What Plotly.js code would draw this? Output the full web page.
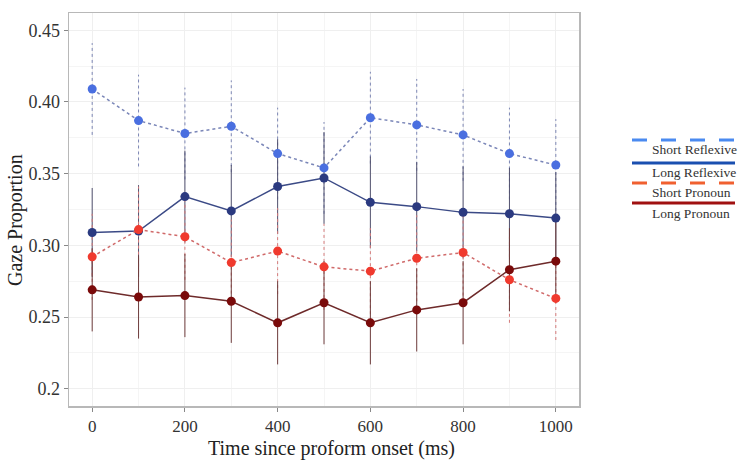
<!DOCTYPE html>
<html><head><meta charset="utf-8">
<script src="https://cdn.plot.ly/plotly-3.0.1.min.js"></script>
<style>html,body{margin:0;padding:0;background:#fff}#chart{width:749px;height:466px}</style>
</head><body><div id="chart"></div>
<script>
const times = [0,100,200,300,400,500,600,700,800,900,1000];
const shortReflexive = [0.409,0.387,0.378,0.383,0.364,0.354,0.389,0.384,0.377,0.364,0.356];
const shortReflexiveErr = [0.032,0.032,0.032,0.032,0.032,0.032,0.032,0.032,0.032,0.032,0.032];
const longReflexive = [0.309,0.310,0.334,0.324,0.341,0.347,0.330,0.327,0.323,0.322,0.319];
const longReflexiveErr = [0.031,0.032,0.032,0.032,0.033,0.032,0.032,0.031,0.032,0.032,0.032];
const shortPronoun = [0.292,0.311,0.306,0.288,0.296,0.285,0.282,0.291,0.295,0.276,0.263];
const shortPronounErr = [0.030,0.030,0.030,0.030,0.030,0.030,0.030,0.030,0.030,0.030,0.029];
const longPronoun = [0.269,0.264,0.265,0.261,0.246,0.260,0.246,0.255,0.260,0.283,0.289];
const longPronounErr = [0.029,0.029,0.029,0.029,0.029,0.029,0.029,0.029,0.029,0.029,0.029];
const seriesNames = ['Short Reflexive','Long Reflexive','Short Pronoun','Long Pronoun'];
const xTicks = [0,200,400,600,800,1000];
const yTickVals = [0.2,0.25,0.30,0.35,0.40,0.45];
const yTickText = ['0.2','0.25','0.30','0.35','0.40','0.45'];
const xTitle = 'Time since proform onset (ms)';
const yTitle = 'Gaze Proportion';

const SERIF = 'Liberation Serif, Times New Roman, serif';
function errTrace(y, e, color, dash){
  const xs=[], ys=[];
  times.forEach((t,i)=>{xs.push(t,t,null); ys.push(y[i]-e[i], y[i]+e[i], null);});
  return {x:xs,y:ys,mode:'lines',line:{color:color,width:1,dash:dash},hoverinfo:'skip',showlegend:false};
}
function lineTrace(y, lineColor, markerColor, dash){
  return {x:times,y:y,mode:'lines+markers',line:{color:lineColor,width:1.5,dash:dash},
    marker:{color:markerColor,size:9},showlegend:false};
}
const data = [
  errTrace(shortReflexive, shortReflexiveErr, '#7c86b4', 'dot'),
  errTrace(longReflexive, longReflexiveErr, '#50506e', 'solid'),
  errTrace(shortPronoun, shortPronounErr, '#d47a7a', 'dot'),
  errTrace(longPronoun, longPronounErr, '#6e3c3c', 'solid'),
  lineTrace(shortReflexive, '#7a86b8', '#4a6fe0', 'dot'),
  lineTrace(longReflexive, '#3b4a86', '#2b3a80', 'solid'),
  lineTrace(shortPronoun, '#d06a6a', '#f03a2e', 'dot'),
  lineTrace(longPronoun, '#6e2a2a', '#7a0a0a', 'solid')
];

const legColors = ['#4a8af0','#1a4fb0','#f06030','#a01010'];
const legDash = ['15px,14px','solid','15px,14px','solid'];
const W=749,H=466;
const PL=69, PW=510, PB=406, PH=393;
const px = x => (x-PL)/PW, py = y => (PB-y)/PH;
const legLineY = [140,163,183,203];
const legTextY = [150,172,192,213];
const shapes = [], annotations = [];
seriesNames.forEach((n,i)=>{
  shapes.push({type:'line',xref:'paper',yref:'paper',
    x0:px(632), x1:px(735), y0:py(legLineY[i]), y1:py(legLineY[i]),
    line:{color:legColors[i],width:3,dash:legDash[i]}});
  annotations.push({xref:'paper',yref:'paper',x:px(650),y:py(legTextY[i]),
    text:n,showarrow:false,xanchor:'left',yanchor:'middle',
    font:{family:SERIF,size:13.5,color:'#333'}});
});
annotations.push({xref:'paper',yref:'paper',x:px(331),y:py(448),text:xTitle,showarrow:false,
  xanchor:'center',yanchor:'middle',font:{family:SERIF,size:20,color:'#222'}});
annotations.push({xref:'paper',yref:'paper',x:px(15),y:py(220),text:yTitle,showarrow:false,textangle:-90,
  xanchor:'center',yanchor:'middle',font:{family:SERIF,size:20,color:'#222'}});

const layout = {
  width:W,height:H,
  margin:{l:69,r:170,t:13,b:60},
  paper_bgcolor:'#fff',plot_bgcolor:'#fff',
  font:{family:SERIF,color:'#333'},
  xaxis:{range:[-50,1050],tickvals:xTicks,ticks:'outside',ticklen:4,tickcolor:'#888',
    showline:true,mirror:true,linecolor:'#b8b8b8',linewidth:1.5,
    gridcolor:'#efefef',zeroline:false,
    minor:{dtick:100,showgrid:true,gridcolor:'#f5f5f5'},
    tickfont:{family:SERIF,size:17,color:'#333'}},
  yaxis:{range:[0.188,0.462],tickvals:yTickVals,ticktext:yTickText,ticks:'outside',ticklen:4,tickcolor:'#888',
    showline:true,mirror:true,linecolor:'#b8b8b8',linewidth:1.5,
    gridcolor:'#efefef',zeroline:false,
    minor:{tickvals:[0.225,0.275,0.325,0.375,0.425],showgrid:true,gridcolor:'#f5f5f5'},
    tickfont:{family:SERIF,size:18,color:'#333'}},
  shapes:shapes,annotations:annotations,showlegend:false
};
Plotly.newPlot('chart',data,layout,{staticPlot:true});
</script></body></html>
